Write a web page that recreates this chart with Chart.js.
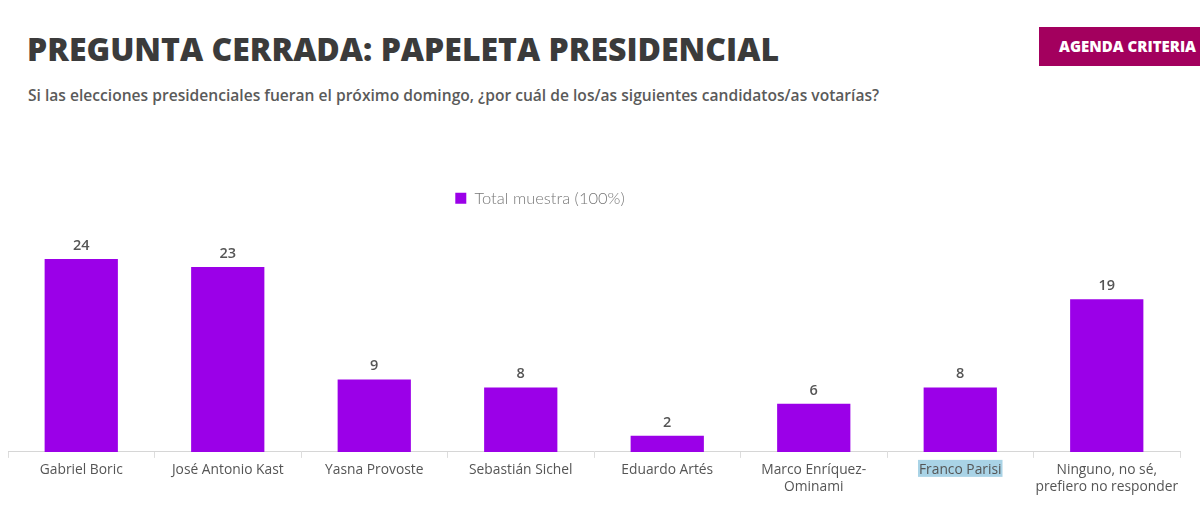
<!DOCTYPE html>
<html>
<head>
<meta charset="utf-8">
<script src="https://cdn.jsdelivr.net/npm/chart.js@4"></script>
<style>
  html, body { margin: 0; padding: 0; background: #fff; }
  body { width: 1200px; height: 506px; position: relative; overflow: hidden; font-family: 'Open Sans', sans-serif; }
  .title { position: absolute; left: 27px; top: 27px; font-size: 32px; font-weight: 800; color: #3b3b3b; letter-spacing: 0px; white-space: nowrap; }
  .subtitle { position: absolute; left: 28px; top: 84px; font-size: 15.6px; font-weight: 600; color: #5a5a5a; white-space: nowrap; }
  .badge { position: absolute; left: 1039px; top: 27px; width: 170px; height: 39px; background: #a3005e; color: #fff; font-weight: 800; font-size: 15px; line-height: 39px; padding-left: 20px; box-sizing: border-box; white-space: nowrap; }
  .chart-wrap { position: absolute; left: 0; top: 170px; width: 1200px; height: 336px; }
</style>
</head>
<body>
<div class="title">PREGUNTA CERRADA: PAPELETA PRESIDENCIAL</div>
<div class="subtitle">Si las elecciones presidenciales fueran el próximo domingo, ¿por cuál de los/as siguientes candidatos/as votarías?</div>
<div class="badge">AGENDA CRITERIA</div>
<div class="chart-wrap"><canvas id="chart"></canvas></div>

<script>
// Candidatos y porcentajes
const categories = [
  'Gabriel Boric',
  'José Antonio Kast',
  'Yasna Provoste',
  'Sebastián Sichel',
  'Eduardo Artés',
  ['Marco Enríquez-', 'Ominami'],
  'Franco Parisi',
  ['Ninguno, no sé,', 'prefiero no responder']
];
const totalMuestra = [24, 23, 9, 8, 2, 6, 8, 19];
const seriesLabel = 'Total muestra (100%)';
const highlightedLabel = 'Franco Parisi';

const barColor = '#9b00e8';

// Value labels above each bar
const valueLabels = {
  id: 'valueLabels',
  afterDatasetsDraw(chart) {
    const { ctx } = chart;
    const meta = chart.getDatasetMeta(0);
    ctx.save();
    ctx.font = '600 14.5px "Open Sans"';
    ctx.fillStyle = '#555';
    ctx.textAlign = 'center';
    ctx.textBaseline = 'bottom';
    meta.data.forEach((bar, i) => {
      ctx.fillText(String(totalMuestra[i]), bar.x, bar.y - 6);
    });
    ctx.restore();
  }
};

// Legend in the source sits left of centre
const legendShift = {
  id: 'legendShift',
  afterLayout(chart) {
    chart.legend.left -= 54;
    chart.legend.right -= 54;
  }
};

// Selection-style highlight behind one x label
const labelHighlight = {
  id: 'labelHighlight',
  beforeDraw(chart) {
    const idx = categories.indexOf(highlightedLabel);
    if (idx < 0) return;
    const { ctx } = chart;
    const x = chart.scales.x.getPixelForValue(idx);
    ctx.save();
    ctx.font = '13.8px "Open Sans"';
    const w = ctx.measureText(highlightedLabel).width;
    ctx.fillStyle = '#a9d3e6';
    const yTop = chart.scales.x.top + 8;
    ctx.fillRect(x - w / 2 - 1, yTop, w + 2, 17);
    ctx.restore();
  }
};

new Chart(document.getElementById('chart'), {
  type: 'bar',
  data: {
    labels: categories,
    datasets: [{
      label: seriesLabel,
      data: totalMuestra,
      backgroundColor: barColor,
      borderWidth: 0,
      barPercentage: 0.5,
      categoryPercentage: 1.0
    }]
  },
  options: {
    responsive: true,
    maintainAspectRatio: false,
    animation: false,
    layout: { padding: { left: 8, right: 20, top: 0, bottom: 7 } },
    plugins: {
      legend: {
        position: 'top',
        labels: {
          color: '#777',
          font: { family: 'Lato', size: 16.5, weight: '300' },
          boxWidth: 11,
          boxHeight: 11,
          padding: 20
        }
      },
      tooltip: { enabled: false }
    },
    scales: {
      x: {
        grid: {
          display: true,
          offset: true,
          drawOnChartArea: false,
          drawTicks: true,
          tickLength: 6,
          color: '#dddddd'
        },
        border: { display: true, color: '#d6d6d6' },
        ticks: {
          color: '#555',
          font: { family: 'Open Sans', size: 13.8 },
          maxRotation: 0,
          autoSkip: false,
          padding: 4
        }
      },
      y: {
        display: false,
        min: 0,
        max: 29.3
      }
    }
  },
  plugins: [labelHighlight, legendShift, valueLabels]
});
</script>
</body>
</html>
